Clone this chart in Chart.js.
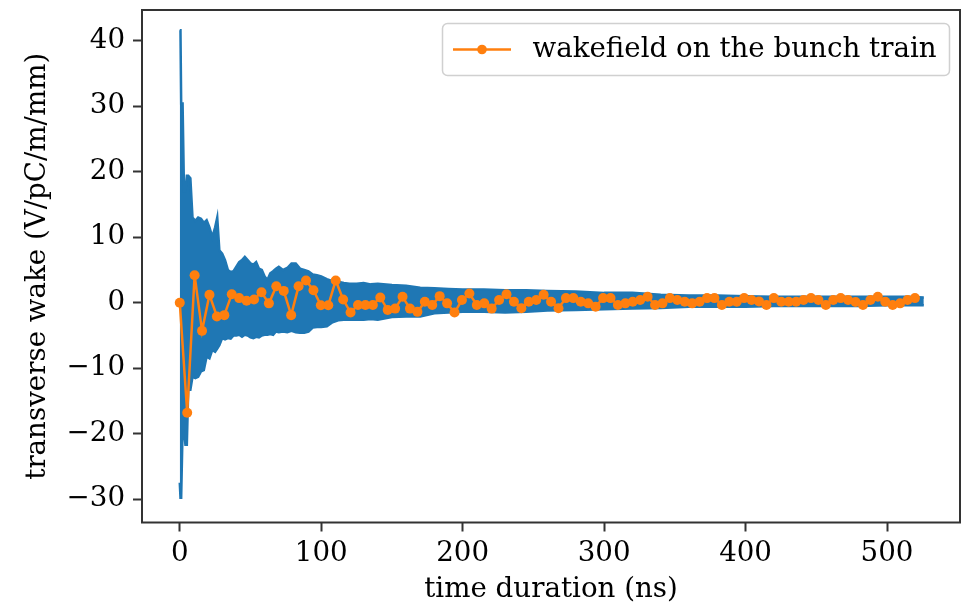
<!DOCTYPE html>
<html>
<head>
<meta charset="utf-8">
<script src="https://cdn.jsdelivr.net/npm/chart.js@4.4.1/dist/chart.umd.min.js"></script>
<style>
  html, body { margin: 0; padding: 0; background: #fff; }
  canvas { display: block; }
</style>
</head>
<body>
<canvas id="wakeChart" width="965" height="606"></canvas>
<script>
// envelope of the raw transverse wake (blue band)
const envTime = [0, 0.5, 1, 2, 3, 4, 5, 6, 7.5, 9, 11, 13, 15, 17, 19, 21, 23, 25, 26.5, 28,
  30, 32, 34, 36, 38, 40, 42, 44, 46, 48, 50, 52, 54, 56, 58, 60, 62, 64, 66, 68,
  70, 73, 76, 79, 82, 85, 88, 91, 94, 97, 100, 104, 108, 112, 116, 120, 125, 130, 135, 140,
  150, 160, 170, 180, 190, 200, 215, 230, 245, 260, 280, 300, 320, 340, 360, 380, 400, 420, 440, 460,
  480, 500, 515, 526];
const envUpper = [41.6, 41.6, 30.4, 30.4, 17, 17, 19.4, 19.4, 19, 13, 12.5, 13, 12.8, 12.2, 12.6, 11.5, 10, 11.5, 13, 8,
  7.5, 6.5, 5, 4.7, 4.8, 5.5, 6.2, 6.5, 7.0, 6.5, 6, 5.8, 6.2, 5.2, 5, 4, 3.5, 4.5, 4.8, 5.2,
  5.5, 5.0, 5.3, 6.0, 6.0, 5.2, 5.0, 4.8, 4.3, 4.2, 4.0, 3.6, 3.3, 3.2, 3.0, 2.9, 2.9, 3.0, 2.8, 2.9,
  2.7, 2.6, 2.3, 2.2, 2.1, 2.0, 2.0, 1.9, 1.9, 1.8, 1.7, 1.5, 1.5, 1.2, 1.1, 1.1, 1.0, 0.9, 0.9, 0.9,
  0.9, 0.9, 0.9, 0.8];
const envLower = [-27.5, -29.8, -29.8, -19.4, -19.4, -21.7, -21.7, -13.3, -13.3, -11.3, -11.5, -11.3, -10.5, -10.3, -8.2, -8.5, -7.2, -7.5, -7, -6.5,
  -5.4, -5.6, -5.4, -5.5, -5.0, -5.0, -4.9, -5.2, -4.9, -5.0, -5.3, -5.4, -5.2, -5.3, -5.0, -4.9, -4.9, -4.8, -4.9, -4.4,
  -4.5, -4.4, -4.5, -4.3, -4.5, -4.6, -4.6, -4.4, -3.8, -3.7, -3.7, -3.6, -3.0, -2.7, -2.6, -2.6, -2.6, -2.6, -2.5, -2.6,
  -2.2, -2.1, -2.1, -1.6, -1.5, -1.4, -1.4, -1.5, -1.4, -1.2, -1.1, -1.0, -0.9, -0.8, -0.6, -0.6, -0.6, -0.5, -0.5, -0.5,
  -0.5, -0.4, -0.4, -0.4];

// wakefield seen by each bunch of the train
const bunchTime = [0, 5.25, 10.5, 15.75, 21, 26.25, 31.5, 36.75, 42, 47.25,
  52.5, 57.75, 63, 68.25, 73.5, 78.75, 84, 89.25, 94.5, 99.75,
  105, 110.25, 115.5, 120.75, 126, 131.25, 136.5, 141.75, 147, 152.25,
  157.5, 162.75, 168, 173.25, 178.5, 183.75, 189, 194.25, 199.5, 204.75,
  210, 215.25, 220.5, 225.75, 231, 236.25, 241.5, 246.75, 252, 257.25,
  262.5, 267.75, 273, 278.25, 283.5, 288.75, 294, 299.25, 304.5, 309.75,
  315, 320.25, 325.5, 330.75, 336, 341.25, 346.5, 351.75, 357, 362.25,
  367.5, 372.75, 378, 383.25, 388.5, 393.75, 399, 404.25, 409.5, 414.75,
  420, 425.25, 430.5, 435.75, 441, 446.25, 451.5, 456.75, 462, 467.25,
  472.5, 477.75, 483, 488.25, 493.5, 498.75, 504, 509.25, 514.5, 519.75];
const bunchWake = [0, -16.8, 4.2, -4.3, 1.2, -2.1, -1.9, 1.3, 0.7, 0.3,
  0.5, 1.6, -0.1, 2.5, 1.8, -1.9, 2.5, 3.4, 1.9, -0.4,
  -0.4, 3.4, 0.5, -1.5, -0.35, -0.35, -0.35, 0.8, -1.1, -0.9,
  0.9, -0.9, -1.4, 0.15, -0.35, 1.0, -0.1, -1.5, 0.4, 1.4,
  -0.35, -0.1, -0.9, 0.4, 1.3, 0.15, -0.85, 0.15, 0.4, 1.2,
  0.15, -0.85, 0.7, 0.7, 0.15, -0.1, -0.6, 0.7, 0.7, -0.35,
  -0.1, 0.15, 0.4, 0.9, -0.35, -0.1, 0.7, 0.4, 0.15, -0.1,
  0.15, 0.7, 0.7, -0.35, 0.15, 0.15, 0.7, 0.4, 0.2, -0.35,
  0.7, 0.15, 0.15, 0.15, 0.4, 0.7, 0.4, -0.35, 0.4, 0.7,
  0.4, 0.1, -0.35, 0.4, 0.9, 0.15, -0.35, -0.1, 0.4, 0.7];

const xTicks = [0, 100, 200, 300, 400, 500];
const yTicks = [-30, -20, -10, 0, 10, 20, 30, 40];

const legendLabel = 'wakefield on the bunch train';
const blue = '#1f77b4';
const orange = '#ff7f0e';
const FONT = '"DejaVu Serif", serif';
const FSIZE = 27.7;

const pts = (xs, ys) => xs.map((x, i) => ({ x: x, y: ys[i] }));

// frame on all four sides, like matplotlib spines
const framePlugin = {
  id: 'frame',
  afterDraw(chart) {
    const a = chart.chartArea, c = chart.ctx;
    c.save();
    c.strokeStyle = '#333';
    c.lineWidth = 2;
    c.strokeRect(a.left, a.top, a.right - a.left, a.bottom - a.top);
    c.restore();
  }
};

// matplotlib style legend box (line + marker, then label)
const legendPlugin = {
  id: 'mplLegend',
  afterDraw(chart) {
    const c = chart.ctx;
    const x0 = 442.5, y0 = 23.5, w = 507, h = 52, r = 5;
    c.save();
    c.beginPath();
    c.moveTo(x0 + r, y0);
    c.arcTo(x0 + w, y0, x0 + w, y0 + h, r);
    c.arcTo(x0 + w, y0 + h, x0, y0 + h, r);
    c.arcTo(x0, y0 + h, x0, y0, r);
    c.arcTo(x0, y0, x0 + w, y0, r);
    c.closePath();
    c.fillStyle = 'rgba(255,255,255,0.8)';
    c.fill();
    c.strokeStyle = '#d0d0d0';
    c.lineWidth = 1.5;
    c.stroke();
    const ly = y0 + h / 2;
    c.strokeStyle = orange;
    c.lineWidth = 2.5;
    c.beginPath();
    c.moveTo(453, ly);
    c.lineTo(511, ly);
    c.stroke();
    c.fillStyle = orange;
    c.beginPath();
    c.arc(482, ly, 4.8, 0, Math.PI * 2);
    c.fill();
    c.fillStyle = '#000';
    c.font = FSIZE + 'px ' + FONT;
    c.textBaseline = 'middle';
    c.fillText(legendLabel, 532.5, ly);
    c.restore();
  }
};

const ctx = document.getElementById('wakeChart').getContext('2d');
new Chart(ctx, {
  type: 'line',
  data: {
    datasets: [
      {
        label: legendLabel,
        data: pts(bunchTime, bunchWake),
        borderColor: orange,
        backgroundColor: orange,
        borderWidth: 2.5,
        pointRadius: 5,
        pointBorderWidth: 0,
        tension: 0,
        order: 0
      },
      {
        label: 'upper',
        data: pts(envTime, envUpper),
        borderColor: blue,
        backgroundColor: blue,
        borderWidth: 2.5,
        pointRadius: 0,
        fill: '+1',
        tension: 0,
        order: 1
      },
      {
        label: 'lower',
        data: pts(envTime, envLower),
        borderColor: blue,
        backgroundColor: blue,
        borderWidth: 2.5,
        pointRadius: 0,
        fill: false,
        tension: 0,
        order: 2
      }
    ]
  },
  options: {
    responsive: false,
    animation: false,
    devicePixelRatio: 1,
    layout: { padding: { top: 10, right: 1, left: 0, bottom: 0 } },
    plugins: { legend: { display: false }, tooltip: { enabled: false } },
    scales: {
      x: {
        type: 'linear',
        min: -26.7,
        max: 551.6,
        afterFit(s) { s.height = 83.5; s.paddingLeft = 0; s.paddingRight = 0; },
        afterBuildTicks(s) { s.ticks = xTicks.map(v => ({ value: v })); },
        grid: { drawOnChartArea: false, drawTicks: true, tickLength: 9, tickWidth: 2, tickColor: '#333' },
        border: { display: false },
        ticks: { color: '#000', padding: 6, maxRotation: 0, font: { family: FONT, size: FSIZE } },
        title: { display: true, text: 'time duration (ns)', color: '#000', padding: { top: 0, bottom: 0 }, font: { family: FONT, size: FSIZE } }
      },
      y: {
        min: -33.56,
        max: 44.69,
        afterFit(s) { s.width = 142; s.paddingTop = 0; s.paddingBottom = 0; },
        afterBuildTicks(s) { s.ticks = yTicks.map(v => ({ value: v })); },
        grid: { drawOnChartArea: false, drawTicks: true, tickLength: 9, tickWidth: 2, tickColor: '#333' },
        border: { display: false },
        ticks: {
          color: '#000', padding: 8, font: { family: FONT, size: FSIZE },
          callback: v => String(v).replace('-', '\u2212')
        },
        title: { display: true, text: 'transverse wake (V/pC/m/mm)', color: '#000', padding: { top: 21, bottom: 0 }, font: { family: FONT, size: FSIZE } }
      }
    }
  },
  plugins: [framePlugin, legendPlugin]
});
</script>
</body>
</html>
